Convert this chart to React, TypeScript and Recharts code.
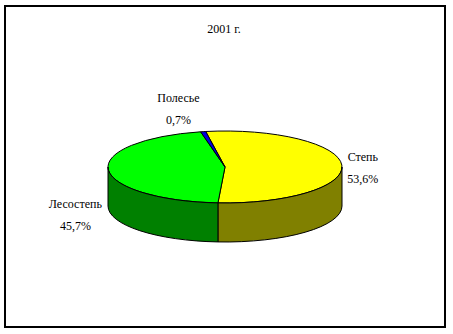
import { PieChart, Pie, Cell } from 'recharts';

const regions = ['Степь', 'Лесостепь', 'Полесье'];
const shares = [53.6, 45.7, 0.7];
const title = '2001 г.';

const topColors = ['#ffff00', '#00ff00', '#0000e0'];
const sideColors = ['#808000', '#008000', '#000080'];

// Excel puts these labels in odd spots, so each one gets a small nudge
const labelNudge = [
  { dx: 1, dy: 3 },
  { dx: -13, dy: 43 },
  { dx: -21, dy: -4 },
];

const data = regions.map((name, i) => ({ name, value: shares[i] }));

const CX = 225;
const CY = 167;
const RX = 117;
const RY = 36;
const DEPTH = 39;
const START = 99.5;
const FONT = 'Liberation Serif';

const rad = Math.PI / 180;
const pt = (a: number, y0: number) =>
  `${CX + RX * Math.cos(a * rad)},${y0 - RY * Math.sin(a * rad)}`;

// side wall of a slice: only the part facing the viewer (180°..360°)
function SideWall(props: any) {
  const { startAngle, endAngle, index } = props;
  const lo0 = Math.min(startAngle, endAngle);
  const hi0 = Math.max(startAngle, endAngle);
  const parts: string[] = [];
  for (let k = -2; k <= 2; k++) {
    const lo = Math.max(lo0, 180 + 360 * k);
    const hi = Math.min(hi0, 360 + 360 * k);
    if (hi - lo > 0.01) {
      parts.push(
        `M${pt(lo, CY)} A${RX},${RY} 0 0 0 ${pt(hi, CY)} L${pt(hi, CY + DEPTH)} A${RX},${RY} 0 0 1 ${pt(lo, CY + DEPTH)} Z`,
      );
    }
  }
  if (!parts.length) return <g />;
  return <path d={parts.join(' ')} fill={sideColors[index]} stroke="#000" strokeWidth={1} />;
}

function SliceLabel(props: any) {
  const { midAngle, index } = props;
  const x = CX + (RX + 20) * Math.cos(midAngle * rad) + labelNudge[index].dx;
  const y = CY - (RY + 20) * Math.sin(midAngle * rad) + labelNudge[index].dy;
  const pct = shares[index].toFixed(1).replace('.', ',') + '%';
  return (
    <text x={x} y={y} textAnchor="middle" fontFamily={FONT} fontSize={12} fill="#000">
      <tspan x={x} dy={-6}>{regions[index]}</tspan>
      <tspan x={x} dy={22}>{pct}</tspan>
    </text>
  );
}

export default function App() {
  return (
    <div style={{ position: 'relative', width: 453, height: 334, background: '#fff' }}>
      <style>{`
        body { margin: 0; }
        .top-face { transform: translateY(${CY}px) scaleY(${RY / RX}) translateY(-${CY}px); }
        .top-face .top-face { transform: none; }
        .top-face path { vector-effect: non-scaling-stroke; }
      `}</style>
      <div
        style={{
          position: 'absolute',
          left: 4,
          top: 5,
          width: 438,
          height: 319,
          border: '2px solid #000',
        }}
      />
      <div
        style={{
          position: 'absolute',
          left: 0,
          width: 448,
          top: 22,
          textAlign: 'center',
          fontFamily: FONT,
          fontSize: 12,
        }}
      >
        {title}
      </div>
      <div style={{ position: 'absolute', left: 0, top: 0 }}>
        <PieChart width={453} height={334} margin={{ top: 0, right: 0, bottom: 0, left: 0 }}>
          <Pie
            data={data}
            dataKey="value"
            cx={CX}
            cy={CY}
            outerRadius={RX}
            startAngle={START}
            endAngle={START - 360}
            stroke="none"
            fill="none"
            label={SideWall}
            labelLine={false}
            isAnimationActive={false}
          >
            {data.map((d) => (
              <Cell key={d.name} fill="none" stroke="none" />
            ))}
          </Pie>
          <Pie
            className="top-face"
            data={data}
            dataKey="value"
            cx={CX}
            cy={CY}
            outerRadius={RX}
            startAngle={START}
            endAngle={START - 360}
            stroke="#000"
            strokeWidth={1}
            label={false}
            labelLine={false}
            isAnimationActive={false}
          >
            {data.map((d, i) => (
              <Cell key={d.name} fill={topColors[i]} />
            ))}
          </Pie>
          <Pie
            data={data}
            dataKey="value"
            cx={CX}
            cy={CY}
            outerRadius={RX}
            startAngle={START}
            endAngle={START - 360}
            fill="none"
            stroke="none"
            label={SliceLabel}
            labelLine={false}
            isAnimationActive={false}
          >
            {data.map((d) => (
              <Cell key={d.name} fill="none" stroke="none" />
            ))}
          </Pie>
        </PieChart>
      </div>
    </div>
  );
}
